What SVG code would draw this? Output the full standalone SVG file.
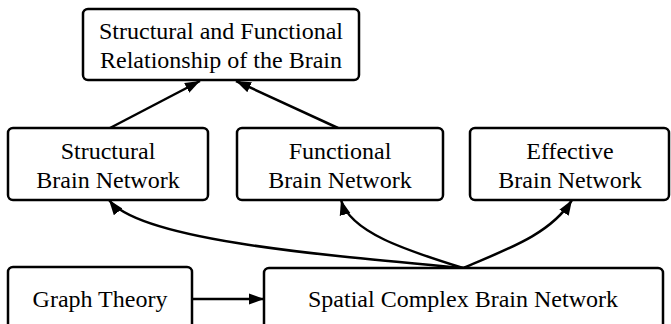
<svg xmlns="http://www.w3.org/2000/svg" width="671" height="324" viewBox="0 0 671 324">
<style>
.box{fill:#fff;stroke:#000;stroke-width:2.5}
.lbl{font-family:"Liberation Serif","Times New Roman",serif;font-size:24px;fill:#000;text-anchor:middle}
.edge{fill:none;stroke:#000;stroke-width:2.5}
</style>
<defs>
<marker id="ah" markerUnits="userSpaceOnUse" markerWidth="16" markerHeight="12" refX="15" refY="6" orient="auto">
<path d="M0,0.5 L15,6 L0,11.5 z" fill="#000"/>
</marker>
</defs>
<rect width="671" height="324" fill="#fff"/>
<g id="edges">
<line class="edge" x1="110" y1="128" x2="200" y2="81" marker-end="url(#ah)"/>
<line class="edge" x1="338" y1="128" x2="236" y2="81" marker-end="url(#ah)"/>
<path class="edge" d="M463,268 C320,255 140,240 109,200" marker-end="url(#ah)"/>
<path class="edge" d="M463,268 C405,250 350,232 341,200" marker-end="url(#ah)"/>
<path class="edge" d="M463,268 C505,250 550,235 572,200" marker-end="url(#ah)"/>
<line class="edge" x1="192" y1="299" x2="264" y2="299" marker-end="url(#ah)"/>
</g>
<g id="n_top">
<rect class="box" x="83" y="9" width="276" height="71" rx="5"/>
<text class="lbl" x="221" y="39">Structural and Functional</text>
<text class="lbl" x="221" y="68">Relationship of the Brain</text>
</g>
<g id="n_structural">
<rect class="box" x="8" y="128" width="200" height="72" rx="5"/>
<text class="lbl" x="108" y="159">Structural</text>
<text class="lbl" x="108" y="188">Brain Network</text>
</g>
<g id="n_functional">
<rect class="box" x="237" y="128" width="206" height="72" rx="5"/>
<text class="lbl" x="340" y="159">Functional</text>
<text class="lbl" x="340" y="188">Brain Network</text>
</g>
<g id="n_effective">
<rect class="box" x="470" y="128" width="199" height="72" rx="5"/>
<text class="lbl" x="570" y="159">Effective</text>
<text class="lbl" x="570" y="188">Brain Network</text>
</g>
<g id="n_graph">
<rect class="box" x="8" y="267" width="184" height="72" rx="5"/>
<text class="lbl" x="100" y="307">Graph Theory</text>
</g>
<g id="n_spatial">
<rect class="box" x="264" y="268" width="399" height="72" rx="5"/>
<text class="lbl" x="463" y="307">Spatial Complex Brain Network</text>
</g>
</svg>
